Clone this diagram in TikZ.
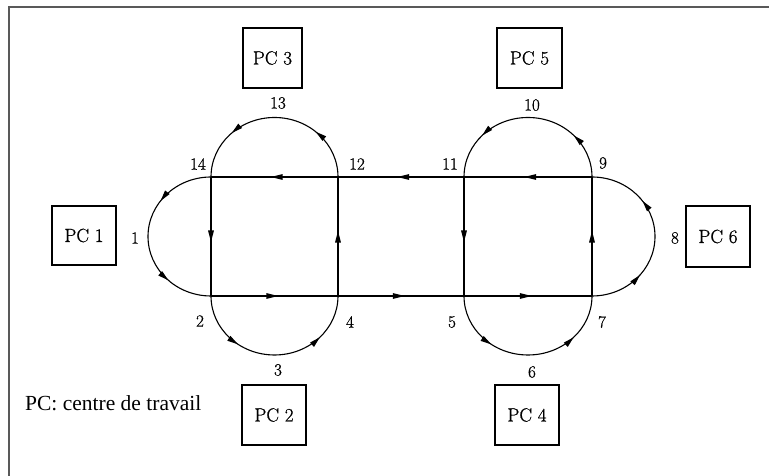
\documentclass[tikz,border=0pt]{standalone}
\usepackage{fontspec}
\newfontfamily\legendfont{Liberation Serif}
\newfontfamily\cmthick[FakeBold=0.9]{Latin Modern Roman}
\usetikzlibrary{arrows.meta,decorations.markings}
\tikzset{
  pcbox/.style={draw,line width=1.4pt,inner sep=0pt,font=\cmthick\fontsize{19}{22}\selectfont},
  numlbl/.style={inner sep=0pt,font=\cmthick\fontsize{17}{20}\selectfont},
  track/.style={line width=1.4pt},
  loop/.style={line width=1.1pt},
  onearr/.style={postaction={decorate,decoration={markings,
     mark=at position #1 with {\arrow{Triangle[length=12pt,width=5.5pt]}}}}},
  twoarr/.style 2 args={postaction={decorate,decoration={markings,
     mark=at position #1 with {\arrow{Triangle[length=11pt,width=5.5pt]}},
     mark=at position #2 with {\arrow{Triangle[length=11pt,width=5.5pt]}}}}},
  frameline/.style={draw=black!65,line width=1.4pt}
}
\begin{document}
\begin{tikzpicture}[x=1pt,y=1pt]
\useasboundingbox (0,0) rectangle (769,476);
% frame
\draw[frameline] (9,0) -- (9,469) -- (769,469);
% junction points
\coordinate (j14) at (211,299);
\coordinate (j12) at (338,299);
\coordinate (j11) at (464,299);
\coordinate (j9)  at (592,299);
\coordinate (j2)  at (211,180);
\coordinate (j4)  at (338,180);
\coordinate (j5)  at (464,180);
\coordinate (j7)  at (592,180);
% straight tracks
\draw[track,onearr=0.53] (j9) -- (j11);
\draw[track,onearr=0.53] (j11) -- (j12);
\draw[track,onearr=0.53] (j12) -- (j14);
\draw[track,onearr=0.53] (j2) -- (j4);
\draw[track,onearr=0.53] (j4) -- (j5);
\draw[track,onearr=0.53] (j5) -- (j7);
\draw[track,onearr=0.55] (j14) -- (j2);
\draw[track,onearr=0.55] (j4) -- (j12);
\draw[track,onearr=0.55] (j11) -- (j5);
\draw[track,onearr=0.55] (j7) -- (j9);
% loops
\draw[loop,twoarr={0.3}{0.76}] (j14) arc[start angle=90,end angle=270,x radius=63,y radius=59.5];
\draw[loop,twoarr={0.28}{0.7}] (j7) arc[start angle=-90,end angle=90,x radius=63,y radius=59.5];
\draw[loop,twoarr={0.3}{0.76}] (j2) arc[start angle=180,end angle=360,x radius=63.5,y radius=59];
\draw[loop,twoarr={0.3}{0.76}] (j5) arc[start angle=180,end angle=360,x radius=64,y radius=59];
\draw[loop,twoarr={0.27}{0.74}] (j12) arc[start angle=0,end angle=180,x radius=63.5,y radius=59.5];
\draw[loop,twoarr={0.24}{0.76}] (j9) arc[start angle=0,end angle=180,x radius=64,y radius=59.5];
% work centres
\node[pcbox,minimum width=59pt,minimum height=60pt] (pc3) at (272.5,418) {PC 3};
\node[pcbox,minimum width=65pt,minimum height=60pt] (pc5) at (529.5,418) {PC 5};
\node[pcbox,minimum width=64pt,minimum height=59pt] (pc1) at (84,240.5) {PC 1};
\node[pcbox,minimum width=64pt,minimum height=61pt] (pc6) at (718,239.5) {PC 6};
\node[pcbox,minimum width=64pt,minimum height=60pt] (pc2) at (274,61) {PC 2};
\node[pcbox,minimum width=64pt,minimum height=60pt] (pc4) at (527,61) {PC 4};
% numbers
\node[numlbl] (l14) at (198,312) {14};
\node[numlbl] (l12) at (357,312) {12};
\node[numlbl] (l11) at (450,312) {11};
\node[numlbl] (l9)  at (603,313) {9};
\node[numlbl] (l1)  at (135,238) {1};
\node[numlbl] (l8)  at (675,238) {8};
\node[numlbl] (l2)  at (200,155) {2};
\node[numlbl] (l4)  at (350,154) {4};
\node[numlbl] (l5)  at (452,154) {5};
\node[numlbl] (l7)  at (602,154) {7};
\node[numlbl] (l3)  at (278,106) {3};
\node[numlbl] (l6)  at (532,104) {6};
\node[numlbl] (l13) at (278,373) {13};
\node[numlbl] (l10) at (532,371) {10};
% legend
\node[anchor=west,inner sep=0pt,font=\legendfont\fontsize{21.5}{24}\selectfont] (leg) at (25,73) {PC: centre de travail};
\end{tikzpicture}
\end{document}
